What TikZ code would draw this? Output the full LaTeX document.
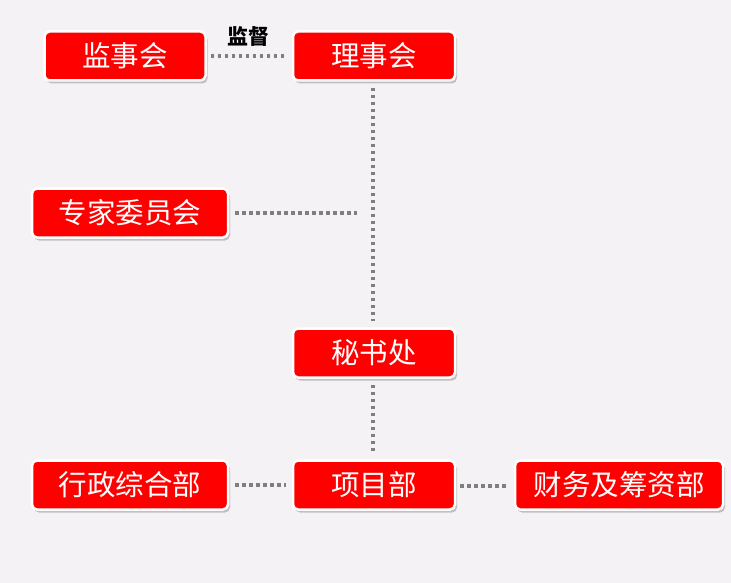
\documentclass[tikz,border=0pt]{standalone}
\usepackage{fontspec}
\newfontfamily\cjk{Noto Sans CJK SC}
\usetikzlibrary{shadows}
\definecolor{bg}{HTML}{F5F2F5}
\definecolor{boxred}{HTML}{FF0000}
\definecolor{linegray}{HTML}{7F7F7F}
\tikzset{
  orgbox/.style={draw=white, line width=2.5pt, fill=boxred, rounded corners=5pt,
    text=white, font=\cjk\fontsize{28.5}{32}\selectfont, inner sep=0pt,
    minimum height=49pt, anchor=center,
    drop shadow={shadow xshift=2pt, shadow yshift=-3pt, fill=black!45, opacity=0.5}},
  link/.style={draw=linegray, line width=3.5pt, dash pattern=on 3.5pt off 3.5pt},
}
\begin{document}
\begin{tikzpicture}[x=1pt,y=-1pt]
\fill[bg] (0,0) rectangle (731,583);
\useasboundingbox (0,0) rectangle (731,583);
\node[orgbox, minimum width=161pt] (jsh) at (125,56) {监事会};
\node[orgbox, minimum width=162pt] (lsh) at (374,56) {理事会};
\node[orgbox, minimum width=196pt] (zj) at (130,213) {专家委员会};
\node[orgbox, minimum width=162pt] (msc) at (374,353) {秘书处};
\node[orgbox, minimum width=196pt] (xz) at (130,485) {行政综合部};
\node[orgbox, minimum width=162pt] (xm) at (374,485) {项目部};
\node[orgbox, minimum width=208pt] (cw) at (619,485) {财务及筹资部};
\coordinate (zjend) at (357,213);
\draw[link] ([xshift=4pt]jsh.east) -- ([xshift=-6pt]lsh.west) node[midway, above=4pt, text=black, font=\cjk\bfseries\fontsize{21}{24}\selectfont] (jd) {监督};
\draw[link] ([xshift=-1pt,yshift=-6pt]lsh.south) -- ([xshift=-1pt,yshift=6pt]msc.north);
\draw[link] ([xshift=6pt]zj.east) -- (zjend);
\draw[link] ([xshift=-1pt,yshift=-6pt]msc.south) -- ([xshift=-1pt,yshift=6pt]xm.north);
\draw[link] ([xshift=6pt]xz.east) -- ([xshift=-6pt]xm.west);
\draw[link] ([xshift=4pt,yshift=-1pt]xm.east) -- ([xshift=-6pt,yshift=-1pt]cw.west);
\end{tikzpicture}
\end{document}
